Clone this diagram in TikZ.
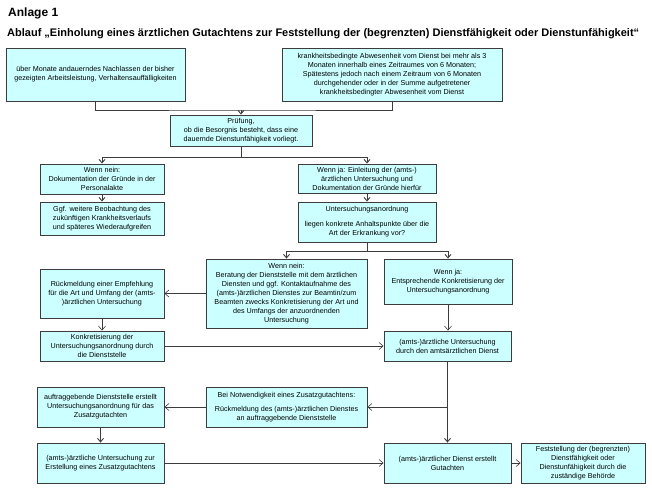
\documentclass[tikz,border=0pt]{standalone}
\usepackage{fontspec}
\setmainfont{Liberation Sans}
\usetikzlibrary{arrows.meta}
\definecolor{boxfill}{HTML}{CCFFFF}
\definecolor{linegray}{HTML}{3C3C3C}
\begin{document}
\begin{tikzpicture}[x=1pt, y=-1pt, every node/.style={font=\fontsize{7.2}{9}\selectfont},
    box/.style={draw=linegray, line width=0.9pt, fill=boxfill, align=center, inner sep=1pt},
    conn/.style={draw=linegray, line width=0.9pt},
    arr/.style={conn, -{Straight Barb[length=3.5pt, width=6pt]}},
    thinarr/.style={draw=linegray, line width=0.6pt, -{Straight Barb[length=4pt, width=7pt]}}]
    \useasboundingbox (0,0) rectangle (652,489);

    \node[anchor=base west, inner sep=0pt, font=\bfseries\fontsize{12}{14}\selectfont] (anlage) at (8,17) {Anlage 1};
    \node[anchor=base west, inner sep=0pt, font=\bfseries\fontsize{11}{13}\selectfont] (titel) at (7,37) {Ablauf „Einholung eines ärztlichen Gutachtens zur Feststellung der (begrenzten) Dienstfähigkeit oder Dienstunfähigkeit“};

    \node[box, minimum width=179pt, minimum height=53pt] (obenL) at (95.5,74.5) {über Monate andauerndes Nachlassen der bisher\\gezeigten Arbeitsleistung, Verhaltensauffälligkeiten};
    \node[box, minimum width=220pt, minimum height=53pt] (obenR) at (392,74.5) {krankheitsbedingte Abwesenheit vom Dienst bei mehr als 3\\Monaten innerhalb eines Zeitraumes von 6 Monaten;\\Spätestens jedoch nach einem Zeitraum von 6 Monaten\\durchgehender oder in der Summe aufgetretener\\krankheitsbedingter Abwesenheit vom Dienst};
    \node[box, minimum width=142pt, minimum height=31pt] (pruef) at (241,130.5) {Prüfung,\\ob die Besorgnis besteht, dass eine\\dauernde Dienstunfähigkeit vorliegt.};
    \node[box, minimum width=124pt, minimum height=30pt] (nein) at (102,179) {Wenn nein:\\Dokumentation der Gründe in der\\Personalakte};
    \node[box, minimum width=124pt, minimum height=33pt] (ggf) at (102,218.5) {Ggf. weitere Beobachtung des\\zukünftigen Krankheitsverlaufs\\und späteres Wiederaufgreifen};
    \node[box, minimum width=138pt, minimum height=29pt] (ja) at (367,178.5) {Wenn ja: Einleitung der (amts-)\\ärztlichen Untersuchung und\\Dokumentation der Gründe hierfür};
    \node[box, minimum width=138pt, minimum height=40pt] (anord) at (367,222) {Untersuchungsanordnung\\[6pt]liegen konkrete Anhaltspunkte über die\\Art der Erkrankung vor?};
    \node[box, minimum width=161pt, minimum height=69pt] (beratung) at (286.5,293.5) {Wenn nein:\\Beratung der Dienststelle mit dem ärztlichen\\Diensten und ggf. Kontaktaufnahme des\\(amts-)ärztlichen Dienstes zur Beamtin/zum\\Beamten zwecks Konkretisierung der Art und\\des Umfangs der anzuordnenden\\Untersuchung};
    \node[box, minimum width=128pt, minimum height=45pt] (jaKonkret) at (448,281.5) {Wenn ja:\\Entsprechende Konkretisierung der\\Untersuchungsanordnung};
    \node[box, minimum width=124pt, minimum height=49pt] (rueck) at (102,293.5) {Rückmeldung einer Empfehlung\\für die Art und Umfang der (amts-\\)ärztlichen Untersuchung};
    \node[box, minimum width=124pt, minimum height=30pt] (konkret) at (102,346) {Konkretisierung der\\Untersuchungsanordnung durch\\die Dienststelle};
    \node[box, minimum width=127pt, minimum height=30pt] (unters) at (447.5,346) {(amts-)ärztliche Untersuchung\\durch den amtsärztlichen Dienst};
    \node[box, minimum width=127pt, minimum height=40pt] (auftrag) at (100.5,407) {auftraggebende Dienststelle erstellt\\Untersuchungsanordnung für das\\Zusatzgutachten};
    \node[box, minimum width=161pt, minimum height=40pt] (notw) at (286.5,407) {Bei Notwendigkeit eines Zusatzgutachtens:\\[5pt]Rückmeldung des (amts-)ärztlichen Dienstes\\an auftraggebende Dienststelle};
    \node[box, minimum width=127pt, minimum height=40pt] (zusatz) at (100.5,463) {(amts-)ärztliche Untersuchung zur\\Erstellung eines Zusatzgutachtens};
    \node[box, minimum width=127pt, minimum height=40pt] (gutachten) at (447.5,463) {(amts-)ärztlicher Dienst erstellt\\Gutachten};
    \node[box, minimum width=124pt, minimum height=40pt] (festst) at (583,463) {Feststellung der (begrenzten)\\Dienstfähigkeit oder\\Dienstunfähigkeit durch die\\zuständige Behörde};

    \coordinate (k1) at (241,110);
    \coordinate (k2) at (241,157);
    \coordinate (k3) at (367,251);
    \coordinate (k4) at (447.5,407);

    \draw[conn] (obenL.south) |- (k1) -| (obenR.south);
    \draw[arr] (k1) -- (pruef);
    \draw[conn] (pruef) -- (k2);
    \draw[arr] (k2) -| (nein);
    \draw[arr] (k2) -| (ja);
    \draw[arr] (nein) -- (ggf);
    \draw[arr] (ja) -- (anord);
    \draw[conn] (anord) -- (k3);
    \draw[arr] (k3) -| (beratung);
    \draw[arr] (k3) -| (jaKonkret);
    \draw[thinarr] (beratung) -- (rueck);
    \draw[thinarr] (rueck) -- (konkret);
    \draw[thinarr] (jaKonkret) -- (jaKonkret |- unters.north);
    \draw[thinarr] (konkret) -- (unters);
    \draw[arr] (unters) -- (gutachten);
    \draw[thinarr] (k4) -- (notw);
    \draw[thinarr] (notw) -- (auftrag);
    \draw[arr] (auftrag) -- (zusatz);
    \draw[thinarr] (zusatz) -- (gutachten);
    \draw[thinarr] (gutachten) -- (festst);
\end{tikzpicture}
\end{document}
